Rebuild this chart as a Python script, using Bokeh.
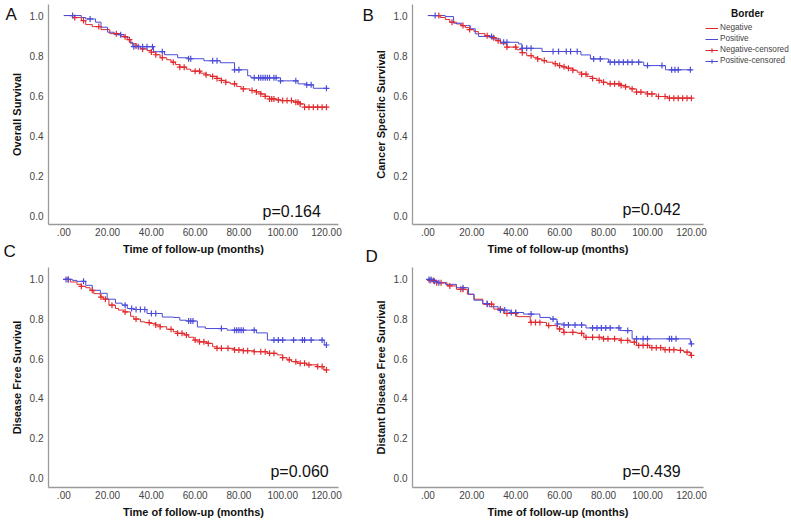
import numpy as np
from bokeh.plotting import figure
from bokeh.models import Range1d, Label, Legend, LegendItem, NumeralTickFormatter, GridBox
from bokeh.core.properties import value
from bokeh.layouts import row, column
from bokeh.embed import file_html
from bokeh.resources import INLINE

RED = "#e12a2e"
BLUE = "#4b4bd8"
FONT = "Liberation Sans"

x_ticks = [0, 20, 40, 60, 80, 100, 120]
x_tick_labels = [".00", "20.00", "40.00", "60.00", "80.00", "100.00", "120.00"]
y_ticks = [0.0, 0.2, 0.4, 0.6, 0.8, 1.0]

group_names = ["Negative", "Positive", "Negative-censored", "Positive-censored"]
legend_title = "Border"
x_title = "Time of follow-up (months)"

# ---- Panel A: Overall Survival ----
A_neg_t = [0, 5, 8, 10, 13, 17, 21, 26, 29, 30.6, 33, 35, 38, 40, 42, 44, 47, 49, 51, 53, 56, 58, 62.5, 65, 67, 70, 72, 74, 76, 79, 81, 85, 88, 90, 92, 94, 97, 99, 105, 108, 110, 120]
A_neg_s = [1.0, 0.99, 0.975, 0.955, 0.945, 0.93, 0.91, 0.895, 0.88, 0.86, 0.848, 0.834, 0.826, 0.818, 0.805, 0.79, 0.78, 0.768, 0.756, 0.743, 0.733, 0.723, 0.713, 0.705, 0.697, 0.687, 0.677, 0.668, 0.66, 0.647, 0.635, 0.627, 0.62, 0.61, 0.598, 0.585, 0.58, 0.577, 0.569, 0.56, 0.544, 0.544]
A_neg_c = [5, 9, 16, 24, 28, 30, 33, 36, 40, 42, 45, 50, 53, 55, 60, 62, 65, 68, 70, 72, 74, 78, 82, 86, 88, 90, 92, 94, 95, 96, 98, 100, 102, 104, 106, 107, 108, 110, 112, 114, 116, 118, 120]
A_pos_t = [0, 8, 10, 14.5, 17, 20, 23, 27.5, 30, 31.5, 41, 46, 52, 57, 64, 71.5, 78, 84, 85.5, 99, 107, 111, 114, 120]
A_pos_s = [1.0, 0.99, 0.983, 0.967, 0.942, 0.917, 0.905, 0.892, 0.867, 0.845, 0.82, 0.805, 0.79, 0.785, 0.775, 0.765, 0.73, 0.70, 0.69, 0.675, 0.66, 0.655, 0.638, 0.638]
A_pos_c = [4, 12, 26, 32, 34, 36, 38, 40.5, 45, 57, 58, 68, 70, 78, 80, 87, 89, 90, 91, 92, 93, 94, 96, 97, 99, 106, 111, 113, 120]

# ---- Panel B: Cancer Specific Survival ----
B_neg_t = [0, 5.6, 8, 10, 13, 15, 17, 19, 21, 23, 26, 28, 31, 33, 36, 40.5, 43, 45, 48, 50, 52, 54, 57, 59, 61, 63, 66, 68, 70, 72.5, 75, 77, 79, 81.6, 87.6, 90, 92, 95, 100, 104, 109, 120]
B_neg_s = [1.0, 0.99, 0.98, 0.967, 0.958, 0.95, 0.94, 0.93, 0.92, 0.91, 0.9, 0.89, 0.875, 0.86, 0.843, 0.83, 0.815, 0.80, 0.792, 0.784, 0.776, 0.768, 0.76, 0.751, 0.745, 0.738, 0.728, 0.718, 0.708, 0.697, 0.687, 0.677, 0.668, 0.66, 0.652, 0.645, 0.635, 0.619, 0.61, 0.597, 0.589, 0.589]
B_neg_c = [5, 11, 16, 19, 27, 30, 32, 36, 40, 43, 47, 50, 53, 58, 60, 62, 64, 66, 70, 72, 75, 78, 80, 83, 85, 87, 88, 90, 93, 95, 97, 100, 102, 105, 108, 110, 112, 114, 116, 118, 120]
B_pos_t = [0, 7.9, 11.7, 15.5, 19.3, 21.6, 23.1, 29.2, 33, 41.3, 42.8, 52, 69.7, 74, 82.3, 98.3, 108.2, 120]
B_pos_s = [1.0, 0.995, 0.962, 0.95, 0.934, 0.909, 0.896, 0.884, 0.867, 0.859, 0.837, 0.821, 0.804, 0.784, 0.768, 0.751, 0.73, 0.73]
B_pos_c = [3.3, 29, 34.5, 36, 43, 45, 47, 57, 59.5, 63, 65, 68, 75.5, 78.5, 83, 85, 87, 89, 91, 93, 96, 100, 106.6, 111, 112.5, 114, 119.5]

# ---- Panel C: Disease Free Survival ----
C_neg_t = [0, 3, 6, 8, 10, 12, 13.7, 16.7, 18, 20.6, 23.6, 25, 27.4, 30.5, 32, 35, 37, 39.6, 42, 44, 47, 50, 52, 55, 57, 59.4, 62, 65.5, 68, 70, 77.7, 82, 86.8, 93, 97.5, 100, 102, 104, 106.6, 111, 115.7, 118.8, 120]
C_neg_s = [1.0, 0.987, 0.975, 0.965, 0.958, 0.945, 0.928, 0.911, 0.9, 0.87, 0.853, 0.845, 0.836, 0.814, 0.80, 0.786, 0.782, 0.778, 0.77, 0.761, 0.748, 0.736, 0.728, 0.72, 0.708, 0.694, 0.685, 0.677, 0.66, 0.652, 0.644, 0.64, 0.635, 0.627, 0.619, 0.605, 0.594, 0.585, 0.577, 0.569, 0.56, 0.543, 0.543]
C_neg_c = [2, 8, 13, 17, 19, 22, 28, 33, 39, 42, 44, 49, 52, 54, 56, 60, 62, 64, 66, 70, 72, 75, 78, 80, 82, 84, 87, 90, 92, 94, 96, 100, 103, 106, 108, 110, 112, 116, 118, 120]
C_pos_t = [0, 4, 6, 10, 13, 16.7, 19.8, 23.6, 26.6, 29, 32, 38, 45, 50, 53, 56, 61, 64.7, 74.6, 88, 93, 119, 120]
C_pos_s = [1.0, 0.995, 0.99, 0.97, 0.945, 0.93, 0.90, 0.88, 0.87, 0.853, 0.848, 0.828, 0.81, 0.808, 0.794, 0.79, 0.76, 0.752, 0.744, 0.73, 0.694, 0.669, 0.669]
C_pos_c = [1, 2, 9, 28, 31, 33, 35, 37, 40, 42, 57, 58, 59, 72, 78, 79, 80, 81, 82, 87, 96, 98, 100, 105, 109, 110, 113, 118, 120]

# ---- Panel D: Distant Disease Free Survival ----
D_neg_t = [0, 1, 4, 8.7, 13, 18, 21, 25, 30, 34.5, 40.5, 46.6, 54, 58.8, 61.8, 68, 71, 80, 87.6, 92, 95, 101, 107.4, 113.5, 116.5, 119.5, 120]
D_neg_s = [1.0, 0.995, 0.983, 0.967, 0.95, 0.925, 0.9, 0.875, 0.85, 0.828, 0.812, 0.783, 0.767, 0.75, 0.733, 0.728, 0.708, 0.70, 0.692, 0.683, 0.667, 0.655, 0.645, 0.642, 0.633, 0.617, 0.617]
D_neg_c = [1, 2.5, 4, 6, 10, 15, 16, 27, 29, 33, 36, 40, 47, 49, 51, 55, 60, 62, 66, 70, 72, 75, 78, 80, 82, 85, 88, 91, 94, 96, 98, 100, 102, 104, 106, 108, 110, 112, 115, 118, 120]
D_pos_t = [0, 2.6, 5, 8, 13, 18.5, 21, 25, 28, 32, 37.5, 43.6, 51, 55.7, 58.8, 61.8, 72, 87.6, 93, 119.5, 120]
D_pos_s = [1.0, 0.99, 0.983, 0.975, 0.958, 0.925, 0.895, 0.878, 0.862, 0.845, 0.833, 0.825, 0.808, 0.80, 0.775, 0.77, 0.755, 0.742, 0.70, 0.675, 0.675]
D_pos_c = [0.5, 1.5, 3, 5, 16, 27, 33, 35, 38, 40, 47, 57, 59, 62, 64, 67, 70, 75, 77, 79, 81, 83, 87, 91, 95, 98, 100, 110, 111, 113, 120]

p_values = ["p=0.164", "p=0.042", "p=0.060", "p=0.439"]
y_titles = ["Overall Survival", "Cancer Specific Survival", "Disease Free Survival", "Distant Disease Free Survival"]
letters = ["A", "B", "C", "D"]


def censor_y(t, s, c):
    t = np.asarray(t, dtype=float)
    s = np.asarray(s, dtype=float)
    idx = np.searchsorted(t, np.asarray(c, dtype=float), side="right") - 1
    idx = np.clip(idx, 0, len(s) - 1)
    return s[idx]


def make_panel(width, height, mbl, mbr, mbt, mbb, y0, y1, ytitle,
               neg_t, neg_s, neg_c, pos_t, pos_s, pos_c, pval, px, py):
    p = figure(width=width, height=height,
               x_range=Range1d(-7, 125.5), y_range=Range1d(y0, y1),
               output_backend="svg", toolbar_location=None,
               min_border_left=mbl, min_border_right=mbr,
               min_border_top=mbt, min_border_bottom=mbb)
    p.outline_line_color = None
    p.grid.visible = False
    p.background_fill_color = "white"
    p.border_fill_color = "white"

    for ax in (p.xaxis, p.yaxis):
        ax.axis_line_color = "#9a9a9a"
        ax.axis_line_width = 1.3
        ax.major_tick_line_color = None
        ax.minor_tick_line_color = None
        ax.major_tick_out = 0
        ax.major_tick_in = 0
        ax.major_label_text_font = FONT
        ax.major_label_text_font_size = "10px"
        ax.major_label_text_color = "#444444"
        ax.axis_label_text_font = FONT
        ax.axis_label_text_font_size = "11px"
        ax.axis_label_text_font_style = "bold"
        ax.axis_label_text_color = "#111111"

    p.xaxis.ticker = x_ticks
    p.xaxis.major_label_overrides = {t: l for t, l in zip(x_ticks, x_tick_labels)}
    p.xaxis.axis_label = x_title
    p.xaxis.major_label_standoff = 3
    p.xaxis.axis_label_standoff = 4

    p.yaxis.ticker = y_ticks
    p.yaxis.formatter = NumeralTickFormatter(format="0.0")
    p.yaxis.axis_label = ytitle
    p.yaxis.major_label_standoff = 5
    p.yaxis.axis_label_standoff = 4

    p.step(neg_t, neg_s, mode="after", line_color=RED, line_width=1.0)
    p.step(pos_t, pos_s, mode="after", line_color=BLUE, line_width=1.0)
    p.scatter(neg_c, censor_y(neg_t, neg_s, neg_c), marker="cross", size=6,
              line_color=RED, line_width=1.2)
    p.scatter(pos_c, censor_y(pos_t, pos_s, pos_c), marker="cross", size=6,
              line_color=BLUE, line_width=1.2)

    p.add_layout(Label(x=px, y=py, text=pval, text_font=FONT, text_font_size="16px",
                       text_color="#111111", text_baseline="middle"))
    return p


TOP_H, BOT_H = 264, 256
LEFT_W, RIGHT_W = 363, 426
TOTAL_W, TOTAL_H = 790, TOP_H + BOT_H

pA = make_panel(LEFT_W, TOP_H, 48, 25, 4, 40, -0.04, 1.055, y_titles[0],
                A_neg_t, A_neg_s, A_neg_c, A_pos_t, A_pos_s, A_pos_c,
                p_values[0], 90.8, 0.025)
pB = make_panel(RIGHT_W, TOP_H, 49, 86, 4, 40, -0.04, 1.055, y_titles[1],
                B_neg_t, B_neg_s, B_neg_c, B_pos_t, B_pos_s, B_pos_c,
                p_values[1], 88.6, 0.035)
pC = make_panel(LEFT_W, BOT_H, 48, 25, 3, 32, -0.05, 1.06, y_titles[2],
                C_neg_t, C_neg_s, C_neg_c, C_pos_t, C_pos_s, C_pos_c,
                p_values[2], 94.4, 0.03)
pD = make_panel(RIGHT_W, BOT_H, 49, 86, 3, 32, -0.05, 1.06, y_titles[3],
                D_neg_t, D_neg_s, D_neg_c, D_pos_t, D_pos_s, D_pos_c,
                p_values[3], 88.6, 0.03)

# transparent overlay (page pixel coordinates) for panel letters and the shared legend
ov = figure(width=TOTAL_W, height=TOTAL_H, x_range=Range1d(0, TOTAL_W),
            y_range=Range1d(TOTAL_H, 0), output_backend="svg", toolbar_location=None,
            x_axis_type=None, y_axis_type=None, min_border=0)
ov.outline_line_color = None
ov.grid.visible = False
ov.background_fill_color = None
ov.border_fill_color = None

ov.text(x=[5, 362, 3, 365], y=[14, 15, 251, 256], text=letters,
        text_font=value(FONT), text_font_size="17px", text_color="#111111",
        text_baseline="middle", text_align="left")
ov.text(x=[747], y=[13], text=[legend_title], text_font=value(FONT),
        text_font_size="10px", text_font_style="bold", text_color="#111111",
        text_baseline="middle", text_align="center")

# legend-only renderers (no visible data)
nan = [np.nan]
ln = ov.line(nan, nan, line_color=RED, line_width=1.0)
lp = ov.line(nan, nan, line_color=BLUE, line_width=1.0)
mn = ov.scatter(nan, nan, marker="cross", size=7, line_color=RED, line_width=1.2)
mp = ov.scatter(nan, nan, marker="cross", size=7, line_color=BLUE, line_width=1.2)
legend = Legend(items=[
    LegendItem(label=group_names[0], renderers=[ln]),
    LegendItem(label=group_names[1], renderers=[lp]),
    LegendItem(label=group_names[2], renderers=[ln, mn]),
    LegendItem(label=group_names[3], renderers=[lp, mp]),
], location=(705, TOTAL_H - 65.5))
legend.label_text_font = FONT
legend.label_text_font_size = "8.2px"
legend.label_text_color = "#444444"
legend.glyph_width = 13
legend.glyph_height = 10
legend.label_height = 10
legend.label_standoff = 2
legend.spacing = 1
legend.padding = 0
legend.margin = 0
legend.border_line_color = None
legend.background_fill_alpha = 0
ov.add_layout(legend)

main = column(row(pA, pB), row(pC, pD))
page = GridBox(children=[(main, 0, 0), (ov, 0, 0)])
open("out.html", "w").write(file_html(page, INLINE))
